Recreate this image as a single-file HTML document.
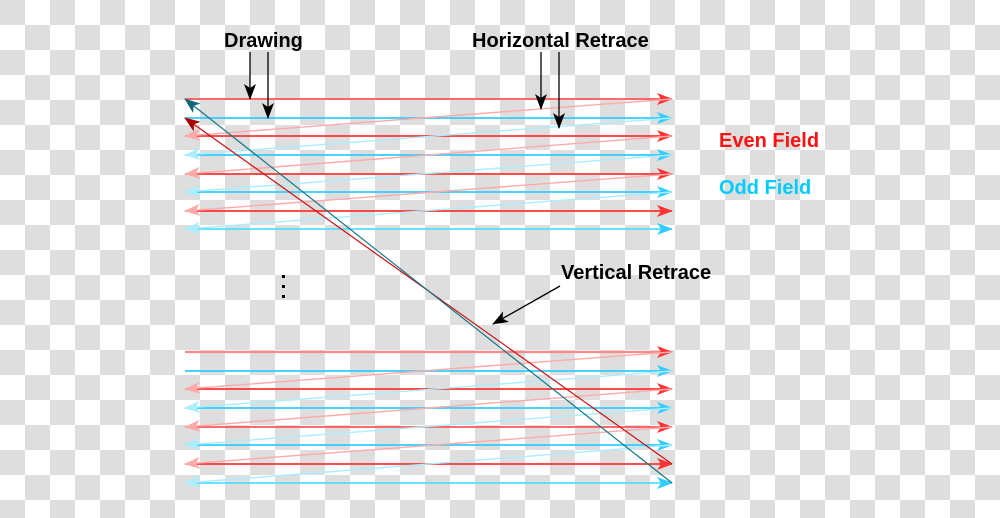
<!DOCTYPE html>
<html><head><style>
html,body{margin:0;padding:0;}
body{width:1000px;height:518px;overflow:hidden;
background-color:#fff;
background-image:
linear-gradient(45deg,#dedede 25%,transparent 25%,transparent 75%,#dedede 75%),
linear-gradient(45deg,#dedede 25%,transparent 25%,transparent 75%,#dedede 75%);
background-size:50px 50px;background-position:25px 0,0 25px;}
svg{position:absolute;left:0;top:0;}
text{font-family:"Liberation Sans",sans-serif;font-weight:bold;font-size:20px;}
</style></head><body>
<svg width="1000" height="518" viewBox="0 0 1000 518">
<defs>
<marker id="aR" markerWidth="16" markerHeight="12" refX="15" refY="6" orient="auto" markerUnits="userSpaceOnUse"><path d="M0,0 L16,6 L0,12 L4,6z" fill="#ff3333"/></marker>
<marker id="aB" markerWidth="16" markerHeight="12" refX="15" refY="6" orient="auto" markerUnits="userSpaceOnUse"><path d="M0,0 L16,6 L0,12 L4,6z" fill="#33ccff"/></marker>
<marker id="aP" markerWidth="16" markerHeight="12" refX="15" refY="6" orient="auto" markerUnits="userSpaceOnUse"><path d="M0,0 L16,6 L0,12 L4,6z" fill="#ffaaaa"/></marker>
<marker id="aL" markerWidth="16" markerHeight="12" refX="15" refY="6" orient="auto" markerUnits="userSpaceOnUse"><path d="M0,0 L16,6 L0,12 L4,6z" fill="#aaeeff"/></marker>
<marker id="aK" markerWidth="16" markerHeight="12" refX="15" refY="6" orient="auto" markerUnits="userSpaceOnUse"><path d="M0,0 L16,6 L0,12 L4,6z" fill="#000"/></marker>
<marker id="aT" markerWidth="16" markerHeight="12" refX="15" refY="6" orient="auto" markerUnits="userSpaceOnUse"><path d="M0,0 L16,6 L0,12 L4,6z" fill="#116677"/></marker>
<marker id="aD" markerWidth="16" markerHeight="12" refX="15" refY="6" orient="auto" markerUnits="userSpaceOnUse"><path d="M0,0 L16,6 L0,12 L4,6z" fill="#aa0000"/></marker>
</defs>
<g stroke-width="1.8" fill="none">
<line x1="185" y1="99" x2="672" y2="99" stroke="#ff5555" marker-end="url(#aR)"/>
<line x1="185" y1="118" x2="672" y2="118" stroke="#33ccff" marker-end="url(#aB)"/>
<line x1="185" y1="136" x2="672" y2="136" stroke="#ff3333" marker-end="url(#aR)"/>
<line x1="185" y1="155" x2="672" y2="155" stroke="#33ccff" marker-end="url(#aB)"/>
<line x1="185" y1="174" x2="672" y2="174" stroke="#ff3333" marker-end="url(#aR)"/>
<line x1="185" y1="192" x2="672" y2="192" stroke="#33ccff" marker-end="url(#aB)"/>
<line x1="185" y1="211" x2="672" y2="211" stroke="#ff3333" marker-end="url(#aR)"/>
<line x1="185" y1="229" x2="672" y2="229" stroke="#55ddff" marker-end="url(#aB)"/>
<line x1="185" y1="352" x2="672" y2="352" stroke="#ff8888" stroke-width="2.2" marker-end="url(#aR)"/>
<line x1="185" y1="371" x2="672" y2="371" stroke="#33ccff" marker-end="url(#aB)"/>
<line x1="185" y1="389" x2="672" y2="389" stroke="#ff3333" marker-end="url(#aR)"/>
<line x1="185" y1="408" x2="672" y2="408" stroke="#33ccff" marker-end="url(#aB)"/>
<line x1="185" y1="427" x2="672" y2="427" stroke="#ff5555" marker-end="url(#aR)"/>
<line x1="185" y1="445" x2="672" y2="445" stroke="#33ccff" marker-end="url(#aB)"/>
<line x1="185" y1="464" x2="672" y2="464" stroke="#ff3333" marker-end="url(#aR)"/>
<line x1="185" y1="483" x2="672" y2="483" stroke="#55ddff" marker-end="url(#aB)"/>
<g stroke-width="1.4">
<line x1="672" y1="99" x2="185" y2="136" stroke="#ffaaaa" marker-end="url(#aP)"/>
<line x1="672" y1="136" x2="185" y2="174" stroke="#ffaaaa" marker-end="url(#aP)"/>
<line x1="672" y1="174" x2="185" y2="211" stroke="#ffaaaa" marker-end="url(#aP)"/>
<line x1="672" y1="118" x2="185" y2="155" stroke="#aaeeff" marker-end="url(#aL)"/>
<line x1="672" y1="155" x2="185" y2="192" stroke="#aaeeff" marker-end="url(#aL)"/>
<line x1="672" y1="192" x2="185" y2="229" stroke="#aaeeff" marker-end="url(#aL)"/>
<line x1="672" y1="352" x2="185" y2="389" stroke="#ffaaaa" marker-end="url(#aP)"/>
<line x1="672" y1="389" x2="185" y2="427" stroke="#ffaaaa" marker-end="url(#aP)"/>
<line x1="672" y1="427" x2="185" y2="464" stroke="#ffaaaa" marker-end="url(#aP)"/>
<line x1="672" y1="371" x2="185" y2="408" stroke="#aaeeff" marker-end="url(#aL)"/>
<line x1="672" y1="408" x2="185" y2="445" stroke="#aaeeff" marker-end="url(#aL)"/>
<line x1="672" y1="445" x2="185" y2="483" stroke="#aaeeff" marker-end="url(#aL)"/>
</g>
<line x1="672" y1="464" x2="185" y2="118" stroke="#cc1111" stroke-width="1.2" marker-end="url(#aD)"/>
<line x1="672" y1="483" x2="185" y2="99" stroke="#117788" stroke-width="1.2" marker-end="url(#aT)"/>
<g stroke="#000" stroke-width="1.3">
<line x1="250" y1="52" x2="250" y2="99" marker-end="url(#aK)"/>
<line x1="268" y1="52" x2="268" y2="118" marker-end="url(#aK)"/>
<line x1="541" y1="52" x2="541" y2="109" marker-end="url(#aK)"/>
<line x1="559" y1="52" x2="559" y2="128" marker-end="url(#aK)"/>
<line x1="560" y1="286" x2="493" y2="324" marker-end="url(#aK)"/>
</g>
</g>
<rect x="282" y="275" width="3" height="3" fill="#000"/>
<rect x="282" y="285" width="3" height="3" fill="#000"/>
<rect x="282" y="295" width="3" height="3" fill="#000"/>
<text x="224" y="47" fill="#000">Drawing</text>
<text x="472" y="47" fill="#000">Horizontal Retrace</text>
<text x="719" y="147" fill="#ff1111">Even Field</text>
<text x="719" y="194" fill="#00ccff">Odd Field</text>
<text x="561" y="279" fill="#000">Vertical Retrace</text>
</svg>
</body></html>
